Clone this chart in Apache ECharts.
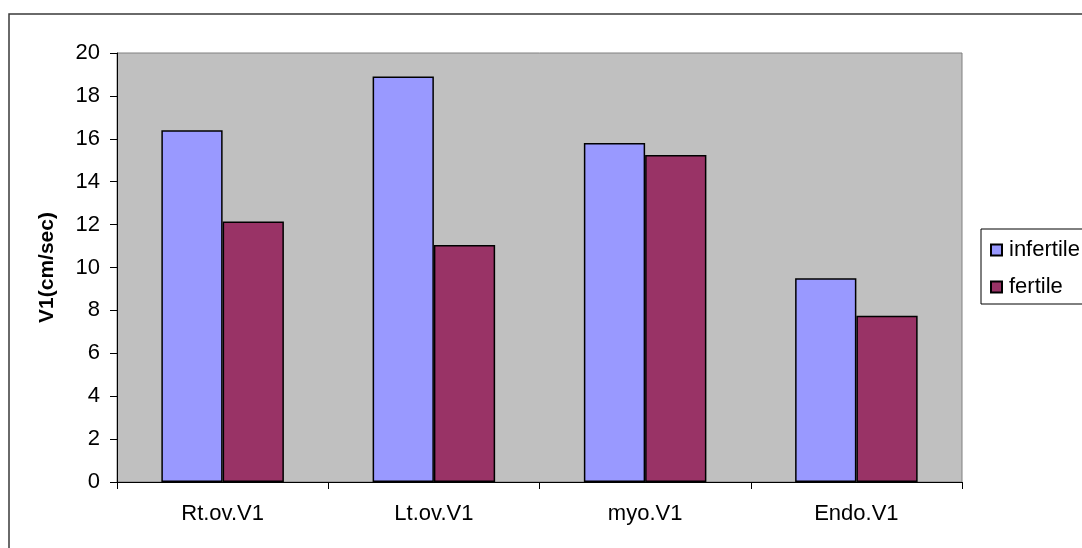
<!DOCTYPE html>
<html>
<head>
<meta charset="utf-8">
<script src="https://cdn.jsdelivr.net/npm/echarts@6/dist/echarts.min.js"></script>
<style>
  html, body { margin: 0; padding: 0; background: #fff; }
  #chart { width: 1082px; height: 548px; }
</style>
</head>
<body>
<div id="chart"></div>
<script>
// Mean V1 velocity by site
const categories = ['Rt.ov.V1', 'Lt.ov.V1', 'myo.V1', 'Endo.V1'];
const infertile = [16.4, 18.9, 15.8, 9.5];
const fertile = [12.15, 11.05, 15.25, 7.75];
const yTicks = { min: 0, max: 20, interval: 2 };

const font = 'Liberation Sans, Arial, sans-serif';
const chart = echarts.init(document.getElementById('chart'));

chart.setOption({
  animation: false,
  graphic: [{
    type: 'rect',
    shape: { x: 9, y: 14, width: 1100, height: 560 },
    style: { fill: 'none', stroke: '#3a3a3a', lineWidth: 1.5 },
    silent: true,
    z: -1
  }],
  grid: {
    left: 117, top: 53, right: 120, bottom: 66,
    show: true,
    backgroundColor: '#C0C0C0',
    borderColor: '#808080',
    borderWidth: 1
  },
  legend: {
    left: 981, top: 229,
    orient: 'vertical',
    icon: 'rect',
    itemWidth: 11, itemHeight: 11,
    itemGap: 15,
    padding: [10, 30, 6, 9],
    backgroundColor: '#fff',
    borderColor: '#000', borderWidth: 1,
    textStyle: { fontFamily: font, fontSize: 22, color: '#000', lineHeight: 22, padding: [0, 0, 0, 2] },
    data: ['infertile', 'fertile']
  },
  xAxis: {
    type: 'category',
    data: categories,
    boundaryGap: true,
    axisLine: { lineStyle: { color: '#000', width: 1 } },
    axisTick: { show: true, length: 7, lineStyle: { color: '#000' } },
    axisLabel: { fontFamily: font, fontSize: 22, color: '#000', margin: 21 }
  },
  yAxis: {
    type: 'value',
    min: yTicks.min, max: yTicks.max, interval: yTicks.interval,
    name: 'V1(cm/sec)',
    nameLocation: 'middle',
    nameGap: 59,
    nameTextStyle: { fontFamily: font, fontSize: 21, fontWeight: 'bold', color: '#000' },
    axisLine: { show: true, lineStyle: { color: '#000', width: 1 } },
    axisTick: { show: true, length: 7, lineStyle: { color: '#000' } },
    splitLine: { show: false },
    axisLabel: { fontFamily: font, fontSize: 22, color: '#000', margin: 17 }
  },
  series: [
    {
      name: 'infertile', type: 'bar', data: infertile,
      barGap: '0%', barCategoryGap: '42%',
      itemStyle: { color: '#9999FF', borderColor: '#000', borderWidth: 1.5 }
    },
    {
      name: 'fertile', type: 'bar', data: fertile,
      barGap: '0%', barCategoryGap: '42%',
      itemStyle: { color: '#993366', borderColor: '#000', borderWidth: 1.5 }
    }
  ]
});
</script>
</body>
</html>
